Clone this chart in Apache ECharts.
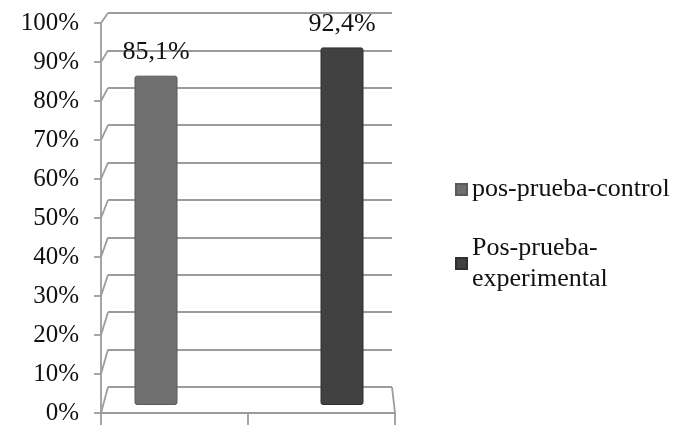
<!DOCTYPE html>
<html>
<head>
<meta charset="utf-8">
<script src="https://cdn.jsdelivr.net/npm/echarts@6/dist/echarts.min.js"></script>
<style>html,body{margin:0;padding:0;background:#fff}#c{width:683px;height:426px}</style>
</head>
<body>
<div id="c"></div>
<script>
var categories = ['pos-prueba-control', 'Pos-prueba-experimental'];
var controlValues = [85.1, '-'];
var experimentalValues = ['-', 92.4];
var yTicks = [0, 10, 20, 30, 40, 50, 60, 70, 80, 90, 100];

var chart = echarts.init(document.getElementById('c'));
var serif = '"Liberation Serif", "DejaVu Serif", serif';
var gridColor = '#9c9c9c';
var lw = 1.8;

function pct(p) { return String(p.value).replace('.', ',') + '%'; }

var slantData = yTicks.map(function (v) { return [0, v]; });
slantData.push([1, 0]);

chart.setOption({
  animation: false,
  backgroundColor: '#fff',
  grid: [
    { left: 101, top: 23, width: 294, height: 390 },   // front
    { left: 108, top: 13, width: 284, height: 374 },   // back wall
    { left: 63, top: 18, width: 372, height: 387 }     // bars (mid depth)
  ],
  xAxis: [
    { gridIndex: 0, type: 'category', data: categories, position: 'bottom', z: 5,
      axisLine: { show: true, onZero: false, lineStyle: { color: gridColor, width: lw } },
      axisTick: { show: true, interval: 0, length: 12, lineStyle: { color: gridColor, width: lw } },
      axisLabel: { show: false } },
    { gridIndex: 0, type: 'value', min: 0, max: 1, show: false },
    { gridIndex: 1, type: 'value', min: 0, max: 1, show: false },
    { gridIndex: 2, type: 'category', data: categories, show: false }
  ],
  yAxis: [
    { gridIndex: 0, type: 'value', min: 0, max: 100, interval: 10,
      axisLine: { show: true, lineStyle: { color: gridColor, width: lw } },
      axisTick: { show: true, length: 7, lineStyle: { color: gridColor, width: lw } },
      splitLine: { show: false },
      axisLabel: { margin: 22, color: '#111', fontFamily: serif, fontSize: 25,
        formatter: function (v) { return v + '%'; } } },
    { gridIndex: 1, type: 'value', min: 0, max: 100, interval: 10,
      axisLine: { show: false }, axisTick: { show: false }, axisLabel: { show: false },
      splitLine: { show: true, lineStyle: { color: gridColor, width: lw } } },
    { gridIndex: 2, type: 'value', min: 0, max: 100, show: false, splitLine: { show: false } }
  ],
  legend: [
    { data: [categories[0]], orient: 'vertical', left: 455, top: 174, padding: 0,
      icon: 'rect', itemWidth: 11, itemHeight: 11,
      textStyle: { fontFamily: serif, fontSize: 26, color: '#111', lineHeight: 31 } },
    { data: [categories[1]], orient: 'vertical', left: 455, top: 217, padding: 0,
      icon: 'rect', itemWidth: 11, itemHeight: 11,
      formatter: function () { return 'Pos-prueba-\nexperimental'; },
      textStyle: { fontFamily: serif, fontSize: 26, color: '#111', lineHeight: 31,
        padding: [31, 0, 0, 0] } }
  ],
  series: [
    { type: 'custom', xAxisIndex: 1, yAxisIndex: 0, data: slantData, silent: true,
      renderItem: function (params, api) {
        var f = api.value(0), v = api.value(1);
        var front = api.coord([f, v]);
        var back = chart.convertToPixel({ xAxisIndex: 2, yAxisIndex: 1 }, [f, v]);
        return { type: 'line', shape: { x1: front[0], y1: front[1], x2: back[0], y2: back[1] },
          style: { stroke: gridColor, lineWidth: lw } };
      } },
    { name: categories[0], type: 'bar', xAxisIndex: 3, yAxisIndex: 2, data: controlValues,
      barWidth: 43, barGap: '-100%',
      itemStyle: { color: '#6f6f6f', borderColor: '#5a5a5a', borderWidth: 1, borderRadius: 2 },
      label: { show: true, position: 'top', distance: 10, color: '#111', fontFamily: serif, fontSize: 26, formatter: pct } },
    { name: categories[1], type: 'bar', xAxisIndex: 3, yAxisIndex: 2, data: experimentalValues,
      barWidth: 43, barGap: '-100%',
      itemStyle: { color: '#414141', borderColor: '#303030', borderWidth: 1, borderRadius: 2 },
      label: { show: true, position: 'top', distance: 10, color: '#111', fontFamily: serif, fontSize: 26, formatter: pct } }
  ]
});
</script>
</body>
</html>
